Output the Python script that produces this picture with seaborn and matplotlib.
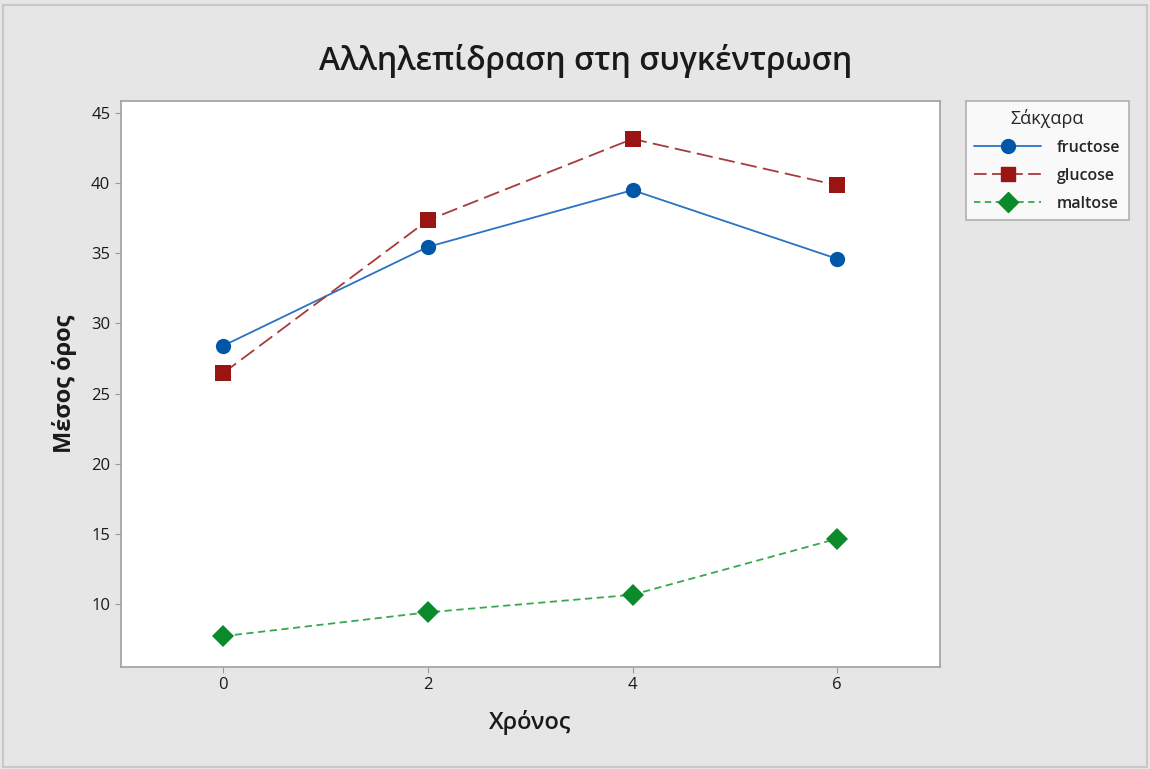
import numpy as np
import pandas as pd
import matplotlib.pyplot as plt
import seaborn as sns
from matplotlib.lines import Line2D

time = [0, 2, 4, 6]
sugars = ['fructose', 'glucose', 'maltose']
fructose = [28.4, 35.45, 39.5, 34.6]
glucose = [26.45, 37.35, 43.15, 39.85]
maltose = [7.7, 9.4, 10.65, 14.65]

df = pd.DataFrame({
    'Χρόνος': time * 3,
    'Σάκχαρα': [s for s in sugars for _ in time],
    'Μέσος όρος': fructose + glucose + maltose,
})

sns.set_style('white')
plt.rcParams['font.family'] = ['Open Sans', 'DejaVu Sans']

fig = plt.figure(figsize=(11.5, 7.69), dpi=100, facecolor='#e6e6e6')
ax = fig.add_axes([0.105, 0.1326, 0.712, 0.736])

palette = {'fructose': '#0057a8', 'glucose': '#9b1414', 'maltose': '#0a8a2a'}
line_colors = {'fructose': '#2a72c4', 'glucose': '#a83a3a', 'maltose': '#38a84c'}
markers = {'fructose': 'o', 'glucose': 's', 'maltose': 'D'}
dashes = {'fructose': '', 'glucose': (9, 3.5), 'maltose': (4, 2.5)}

sns.lineplot(data=df, x='Χρόνος', y='Μέσος όρος', hue='Σάκχαρα', style='Σάκχαρα',
             palette=palette, markers=markers, dashes=dashes, markersize=11,
             markeredgewidth=0, linewidth=1.3, ax=ax, legend=False)
for line, s in zip(ax.lines, sugars):
    line.set_color(line_colors[s])
    line.set_markerfacecolor(palette[s])
    line.set_markeredgecolor(palette[s])

ax.set_xlim(-1, 7)
ax.set_ylim(5.5, 45.85)
ax.set_xticks([0, 2, 4, 6])
ax.set_yticks([10, 15, 20, 25, 30, 35, 40, 45])
ax.tick_params(axis='both', labelsize=12, length=4, color='#999999', direction='out',
               left=True, bottom=True, labelcolor='#1a1a1a')
for sp in ax.spines.values():
    sp.set_color('#a0a0a0')
    sp.set_linewidth(1.2)

ax.set_xlabel('Χρόνος', fontsize=17, fontweight='semibold', labelpad=12, color='#1a1a1a')
ax.set_ylabel('Μέσος όρος', fontsize=17, fontweight='bold', labelpad=10, color='#1a1a1a')
fig.text(0.509, 0.921, 'Αλληλεπίδραση στη συγκέντρωση', fontsize=23,
         fontweight='semibold', ha='center', va='center', color='#1a1a1a')

handles = [Line2D([], [], color=line_colors[s], marker=markers[s], markersize=10,
                  markerfacecolor=palette[s], markeredgecolor=palette[s],
                  linestyle='-' if s == 'fructose' else '--', linewidth=1.3)
           for s in sugars]
handles[1].set_dashes((7, 3))
handles[2].set_dashes((3.5, 2.5))
leg = fig.legend(handles, sugars, title='Σάκχαρα', loc='upper left',
                 bbox_to_anchor=(0.840, 0.869), borderaxespad=0, fontsize=11.5,
                 title_fontsize=13, frameon=True, fancybox=False, edgecolor='#a0a0a0',
                 handlelength=4.2, borderpad=0.5, labelspacing=0.75, handletextpad=1.0)
leg.get_frame().set_linewidth(1.2)
for t in leg.get_texts():
    t.set_fontweight('semibold')

fig.patches.append(plt.Rectangle((0.003, 0.003), 0.994, 0.99, transform=fig.transFigure,
                                 fill=False, edgecolor='#c8c8c8', linewidth=1.5))

fig.savefig('out.png', dpi=100, facecolor=fig.get_facecolor())
